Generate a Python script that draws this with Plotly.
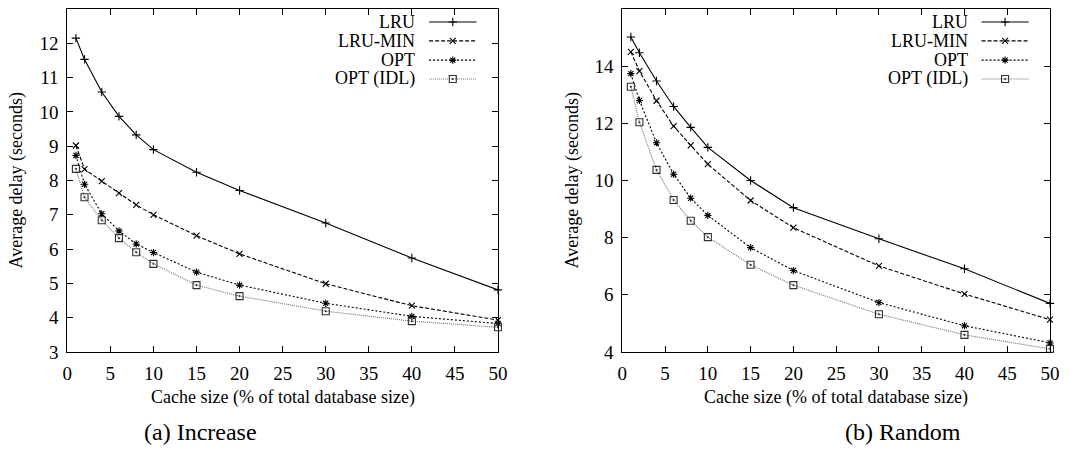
import plotly.graph_objects as go

# ---------------- data ----------------
cache_pct = [1, 2, 4, 6, 8, 10, 15, 20, 30, 40, 50]
series_names = ["LRU", "LRU-MIN", "OPT", "OPT (IDL)"]

# (a) Increase
inc_lru = [12.15, 11.53, 10.58, 9.87, 9.33, 8.90, 8.24, 7.71, 6.76, 5.74, 4.81]
inc_lru_min = [9.02, 8.33, 7.98, 7.63, 7.29, 7.00, 6.39, 5.86, 4.99, 4.35, 3.93]
inc_opt = [8.73, 7.89, 7.03, 6.53, 6.15, 5.90, 5.33, 4.95, 4.42, 4.04, 3.83]
inc_opt_idl = [8.34, 7.51, 6.84, 6.32, 5.91, 5.57, 4.95, 4.63, 4.19, 3.90, 3.72]

# (b) Random
rnd_lru = [15.02, 14.47, 13.48, 12.59, 11.86, 11.16, 10.00, 9.05, 7.96, 6.91, 5.70]
rnd_lru_min = [14.50, 13.83, 12.79, 11.90, 11.23, 10.57, 9.30, 8.35, 7.01, 6.03, 5.13]
rnd_opt = [13.74, 12.80, 11.32, 10.22, 9.38, 8.78, 7.65, 6.85, 5.73, 4.92, 4.32]
rnd_opt_idl = [13.28, 12.04, 10.37, 9.32, 8.59, 8.02, 7.05, 6.34, 5.32, 4.60, 4.11]

x_ticks = [0, 5, 10, 15, 20, 25, 30, 35, 40, 45, 50]
inc_y_ticks = [3, 4, 5, 6, 7, 8, 9, 10, 11, 12, 13]
rnd_y_ticks = [4, 6, 8, 10, 12, 14, 16]

x_title = "Cache size (% of total database size)"
y_title = "Average delay (seconds)"
captions = ["(a) Increase", "(b) Random"]

# ---------------- styles ----------------
FONT = "Liberation Serif"
styles = {
    "LRU": dict(dash="solid", symbol="cross-thin-open", size=6, color="#000000", mcolor="#000000"),
    "LRU-MIN": dict(dash="4px,2px", symbol="x-thin-open", size=6, color="#000000", mcolor="#000000"),
    "OPT": dict(dash="2px,2px", symbol="asterisk-open", size=6, color="#000000", mcolor="#000000"),
    "OPT (IDL)": dict(dash="1px,1px", symbol="square-open-dot", size=7, color="#707070", mcolor="#303030"),
}

W, H = 1083, 449
y_dom = [(H - 352) / H, (H - 9) / H]
x_doms = [[67.3 / W, 498.0 / W], [622.3 / W, 1050.0 / W]]

fig = go.Figure()

panels = [
    dict(xa="x", ya="y", xo="x3", yo="y3",
         series=[inc_lru, inc_lru_min, inc_opt, inc_opt_idl]),
    dict(xa="x2", ya="y2", xo="x4", yo="y4",
         series=[rnd_lru, rnd_lru_min, rnd_opt, rnd_opt_idl]),
]

legend_rows = [0.962, 0.907, 0.851, 0.796]
leg_text_x = 0.812
leg_line = [0.840, 0.950]

for p in panels:
    for name, vals in zip(series_names, p["series"]):
        st = styles[name]
        fig.add_trace(go.Scatter(
            x=cache_pct, y=vals, mode="lines+markers", name=name,
            xaxis=p["xa"], yaxis=p["ya"], showlegend=False, cliponaxis=False,
            line=dict(color=st["color"], width=1.1, dash=st["dash"]),
            marker=dict(symbol=st["symbol"], size=st["size"],
                        line=dict(color=st["mcolor"], width=1.1), color=st["mcolor"]),
        ))
    # legend samples (drawn in an overlay axis with range 0..1)
    for name, ry in zip(series_names, legend_rows):
        st = styles[name]
        fig.add_trace(go.Scatter(
            x=leg_line, y=[ry, ry], mode="lines", xaxis=p["xo"], yaxis=p["yo"],
            showlegend=False, hoverinfo="skip", cliponaxis=False,
            line=dict(color=st["color"], width=1.1, dash=st["dash"]),
        ))
        fig.add_trace(go.Scatter(
            x=[sum(leg_line) / 2], y=[ry], mode="markers", xaxis=p["xo"], yaxis=p["yo"],
            showlegend=False, hoverinfo="skip", cliponaxis=False,
            marker=dict(symbol=st["symbol"], size=st["size"],
                        line=dict(color=st["mcolor"], width=1.1), color=st["mcolor"]),
        ))
        fig.add_annotation(
            text=name, xref=p["xa"] + " domain", yref=p["ya"] + " domain",
            x=leg_text_x, y=ry, xanchor="right", yanchor="middle", showarrow=False,
            font=dict(family=FONT, size=18, color="black"),
        )

axis_common = dict(
    showline=True, linecolor="black", linewidth=1, mirror="ticks",
    ticks="inside", ticklen=6, tickcolor="black", tickwidth=1,
    showgrid=False, zeroline=False, automargin=False,
    tickfont=dict(family=FONT, size=19, color="black"),
)

fig.update_layout(
    width=W, height=H, margin=dict(l=0, r=0, t=0, b=0, autoexpand=False),
    paper_bgcolor="white", plot_bgcolor="white", showlegend=False,
    font=dict(family=FONT, color="black"),
    xaxis=dict(domain=x_doms[0], range=[0, 50], tickvals=x_ticks, anchor="y",
               ticklabelstandoff=4, **axis_common),
    yaxis=dict(domain=y_dom, range=[3, 13], tickvals=inc_y_ticks, anchor="x",
               ticklabelstandoff=4, **axis_common),
    xaxis2=dict(domain=x_doms[1], range=[0, 50], tickvals=x_ticks, anchor="y2",
                ticklabelstandoff=4, **axis_common),
    yaxis2=dict(domain=y_dom, range=[4, 16], tickvals=rnd_y_ticks, anchor="x2",
                ticklabelstandoff=4, **axis_common),
    xaxis3=dict(overlaying="x", range=[0, 1], visible=False, anchor="y3"),
    yaxis3=dict(overlaying="y", range=[0, 1], visible=False, anchor="x3"),
    xaxis4=dict(overlaying="x2", range=[0, 1], visible=False, anchor="y4"),
    yaxis4=dict(overlaying="y2", range=[0, 1], visible=False, anchor="x4"),
)

# axis titles and captions
for i, dom in enumerate(x_doms):
    cx = (dom[0] + dom[1]) / 2
    fig.add_annotation(text=x_title, xref="paper", yref="paper", x=cx, y=(H - 397) / H,
                       xanchor="center", yanchor="middle", showarrow=False,
                       font=dict(family=FONT, size=18, color="black"))
    yx = [16.0, 572.0][i] / W
    fig.add_annotation(text=y_title, xref="paper", yref="paper", x=yx,
                       y=(y_dom[0] + y_dom[1]) / 2, textangle=-90,
                       xanchor="center", yanchor="middle", showarrow=False,
                       font=dict(family=FONT, size=18, color="black"))
    capx = [200.5, 902.5][i] / W
    fig.add_annotation(text=captions[i], xref="paper", yref="paper", x=capx, y=(H - 432) / H,
                       xanchor="center", yanchor="middle", showarrow=False,
                       font=dict(family=FONT, size=24, color="black"))

fig.write_html(
    "out.html",
    config={"displayModeBar": False, "staticPlot": True},
    post_script="document.body.style.margin='0px';document.body.style.overflow='hidden';",
)
